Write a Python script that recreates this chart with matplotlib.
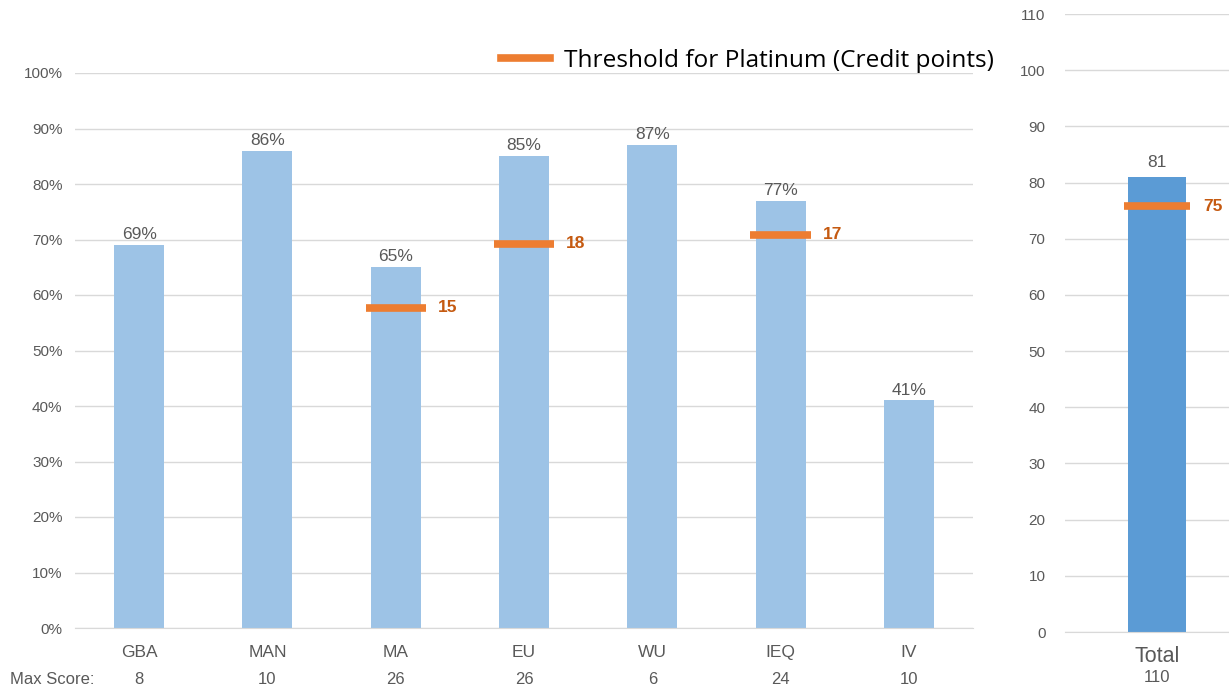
import numpy as np
import matplotlib.pyplot as plt

categories = ['GBA', 'MAN', 'MA', 'EU', 'WU', 'IEQ', 'IV']
max_scores = [8, 10, 26, 26, 6, 24, 10]
achieved_pct = [69, 86, 65, 85, 87, 77, 41]
# credit-point thresholds for Platinum (None where there is none)
thresholds = [None, None, 15, 18, None, 17, None]

total_label = 'Total'
total_max = 110
total_score = 81
total_threshold = 75

light_blue = '#9DC3E6'
dark_blue = '#5B9BD5'
orange = '#ED7D31'
orange_txt = '#C55A11'
grey_txt = '#595959'
grid_col = '#D9D9D9'

plt.rcParams['font.family'] = ['Liberation Sans', 'DejaVu Sans']

fig = plt.figure(figsize=(12.29, 6.93), dpi=100)
W, H = 1229, 693

def px_axes(x0, y_top, x1, y_bot):
    return fig.add_axes([x0 / W, 1 - y_bot / H, (x1 - x0) / W, (y_bot - y_top) / H])

# left panel: percentage per category
ax = px_axes(75, 73, 973, 628)
x = np.arange(len(categories))
ax.bar(x, achieved_pct, width=0.39, color=light_blue, zorder=2)
for xi, v in zip(x, achieved_pct):
    ax.text(xi, v + 0.5, f'{v}%', ha='center', va='bottom', fontsize=12.5, color=grey_txt)
for xi, t, m in zip(x, thresholds, max_scores):
    if t is None:
        continue
    y = t / m * 100
    ax.plot([xi - 0.235, xi + 0.235], [y, y], color=orange, lw=5.5, solid_capstyle='butt', zorder=3)
    ax.text(xi + 0.33, y, str(t), ha='left', va='center', fontsize=12.5, fontweight='bold', color=orange_txt)

ax.set_xlim(-0.5, len(categories) - 0.5)
ax.set_ylim(0, 100)
ax.set_yticks(np.arange(0, 101, 10))
ax.set_yticklabels([f'{v}%' for v in range(0, 101, 10)])
ax.set_xticks(x)
ax.set_xticklabels(categories)
ax.tick_params(axis='both', length=0, labelsize=11, colors=grey_txt)
ax.tick_params(axis='x', labelsize=12.5, pad=12)
ax.tick_params(axis='y', pad=9)
ax.grid(axis='y', color=grid_col, lw=1, zorder=0)
for s in ['top', 'right', 'left']:
    ax.spines[s].set_visible(False)
ax.spines['bottom'].set_color(grid_col)

# max score row
fig.text(10 / W, 1 - 680 / H, 'Max Score:', ha='left', va='center', fontsize=12, color=grey_txt)
for xi, m in zip(x, max_scores):
    ax.annotate(str(m), xy=(xi, 0), xycoords='data', xytext=(0, -52), textcoords='offset pixels',
                ha='center', va='center', fontsize=12, color=grey_txt, annotation_clip=False)

# legend
ax.plot([], [], color=orange, lw=5.5, label='Threshold for Platinum (Credit points)')
ax.legend(loc='upper right', bbox_to_anchor=(1.048, 1.083), frameon=False,
          prop={'family': 'Open Sans', 'size': 17.6}, handlelength=2.0, handletextpad=0.6)

# right panel: total credit points
ax2 = px_axes(1065, 14, 1249, 632)
ax2.bar([0], [total_score], width=0.315, color=dark_blue, zorder=2)
ax2.text(0, total_score + 1.2, str(total_score), ha='center', va='bottom', fontsize=12.5, color=grey_txt)
ax2.plot([-0.18, 0.18], [total_threshold + 0.8] * 2, color=orange, lw=5.5, solid_capstyle='butt', zorder=3)
ax2.text(0.25, total_threshold + 0.8, str(total_threshold), ha='left', va='center',
         fontsize=12.5, fontweight='bold', color=orange_txt)
ax2.set_xlim(-0.5, 0.5)
ax2.set_ylim(0, total_max)
ax2.set_yticks(np.arange(0, total_max + 1, 10))
ax2.set_xticks([0])
ax2.set_xticklabels([total_label])
ax2.tick_params(axis='both', length=0, labelsize=11, colors=grey_txt)
ax2.tick_params(axis='x', labelsize=15.5, pad=10)
ax2.tick_params(axis='y', pad=14)
ax2.grid(axis='y', color=grid_col, lw=1, zorder=0)
for s in ['top', 'right', 'left']:
    ax2.spines[s].set_visible(False)
ax2.spines['bottom'].set_color(grid_col)
ax2.annotate(str(total_max), xy=(0, 0), xycoords='data', xytext=(0, -46), textcoords='offset pixels',
             ha='center', va='center', fontsize=12, color=grey_txt, annotation_clip=False)

fig.savefig('out.png', dpi=100)
